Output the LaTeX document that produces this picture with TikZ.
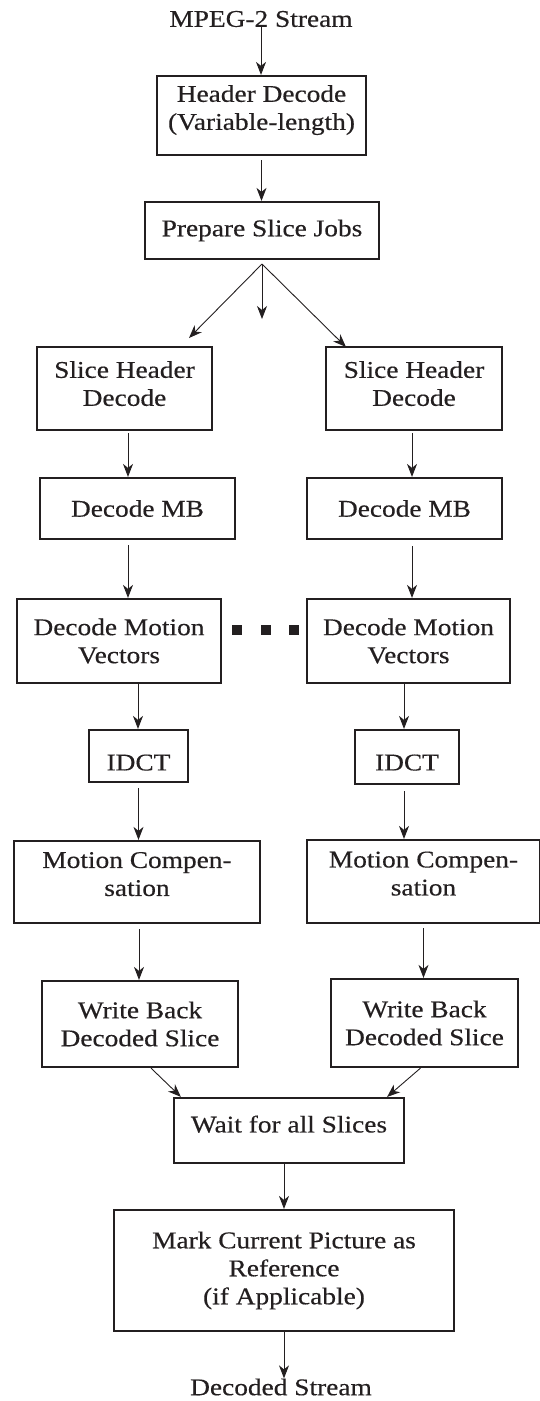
\documentclass[tikz,border=0pt]{standalone}
\usepackage{fontspec}
\setmainfont{Liberation Serif}[FakeStretch=1.14, FakeBold=0.4]
\usetikzlibrary{arrows.meta, positioning}
\definecolor{ink}{RGB}{35,31,32}

\begin{document}
\begin{tikzpicture}[
    x=1pt, y=-1pt,
    % Define styles
    block/.style={rectangle, draw=ink, line width=2.2pt, align=center, inner sep=0pt, text=ink, font=\fontsize{24}{28}\selectfont},
    stream/.style={inner sep=0pt, text=ink, font=\fontsize{24}{28}\selectfont},
    arrow/.style={-{Stealth[length=13pt,width=10pt,inset=4pt]}, draw=ink, line width=0.9pt},
    dotsq/.style={rectangle, fill=ink, minimum size=10pt, inner sep=0pt}
]
\useasboundingbox (0,0) rectangle (540,1401);

% Input and common stages
\node[stream] (src) at (261,19) {MPEG-2 Stream};
\node[block, minimum width=209pt, minimum height=79pt, text depth=16pt] (hdr) at (261.5,115.5) {Header Decode\\(Variable-length)};
\node[block, minimum width=234pt, minimum height=57pt] (prep) at (262,230.5) {Prepare Slice Jobs};

% Fork points
\coordinate (fork) at (262,264);
\coordinate (forkL) at (189,338);
\coordinate (forkM) at (262,319);
\coordinate (forkR) at (346,347);

% Left slice pipeline
\node[block, minimum width=175pt, minimum height=83pt, text depth=10pt] (slhL) at (124.5,388.5) {Slice Header\\Decode};
\node[block, minimum width=195pt, minimum height=61pt] (mbL) at (137.5,508.5) {Decode MB};
\node[block, minimum width=204pt, minimum height=84pt] (dmvL) at (119,641) {Decode Motion\\Vectors};
\node[block, minimum width=99pt, minimum height=52pt, text height=28.8pt, text depth=0pt] (idctL) at (138.5,756) {IDCT};
\node[block, minimum width=246pt, minimum height=82pt, text depth=16pt] (mcL) at (137,882) {Motion Compen-\\sation};
\node[block, minimum width=196pt, minimum height=86pt] (wbL) at (140,1024) {Write Back\\Decoded Slice};

% Right slice pipeline
\node[block, minimum width=176pt, minimum height=83pt, text depth=10pt] (slhR) at (414,388.5) {Slice Header\\Decode};
\node[block, minimum width=195pt, minimum height=61pt] (mbR) at (404.5,508.5) {Decode MB};
\node[block, minimum width=203pt, minimum height=84pt] (dmvR) at (408.5,641) {Decode Motion\\Vectors};
\node[block, minimum width=104pt, minimum height=54pt, text height=26.8pt, text depth=0pt] (idctR) at (407,757) {IDCT};
\node[block, minimum width=233pt, minimum height=83pt, text depth=16pt] (mcR) at (423.5,881.5) {Motion Compen-\\sation};
\node[block, minimum width=187pt, minimum height=88pt] (wbR) at (424.5,1023) {Write Back\\Decoded Slice};

% Dots between the pipelines
\foreach \i/\x in {1/237, 2/266, 3/294}
    \node[dotsq] (dot\i) at (\x,630) {};

% Join and output
\node[block, minimum width=230pt, minimum height=65pt, text depth=13pt] (wait) at (289,1130.5) {Wait for all Slices};
\node[block, minimum width=340pt, minimum height=121pt] (mark) at (284,1270.5) {Mark Current Picture as\\Reference\\(if Applicable)};
\node[stream] (dst) at (281,1387) {Decoded Stream};

% Connect common stages
\draw[arrow] (src) -- (src.south |- hdr.north);
\draw[arrow, shorten <=4pt] (hdr) -- (hdr.south |- prep.north);
\draw[arrow] (fork) -- (forkL);
\draw[arrow] (fork) -- (forkM);
\draw[arrow] (fork) -- (forkR);

% Connect left pipeline
\draw[arrow, shorten <=2pt] ([xshift=3.5pt]slhL.south) -- ([xshift=3.5pt]slhL.south |- mbL.north);
\draw[arrow, shorten <=5pt] ([xshift=-9.5pt]mbL.south) -- ([xshift=-9.5pt]mbL.south |- dmvL.north);
\draw[arrow] ([xshift=19pt]dmvL.south) -- ([xshift=19pt]dmvL.south |- idctL.north);
\draw[arrow, shorten <=5pt] (idctL.south) -- (idctL.south |- mcL.north);
\draw[arrow, shorten <=5pt] ([xshift=2pt]mcL.south) -- ([xshift=2pt]mcL.south |- wbL.north);

% Connect right pipeline
\draw[arrow, shorten <=2pt] ([xshift=-2pt]slhR.south) -- ([xshift=-2pt]slhR.south |- mbR.north);
\draw[arrow, shorten <=6pt] ([xshift=7.5pt]mbR.south) -- ([xshift=7.5pt]mbR.south |- dmvR.north);
\draw[arrow] ([xshift=-4.5pt]dmvR.south) -- ([xshift=-4.5pt]dmvR.south |- idctR.north);
\draw[arrow, shorten <=6pt] ([xshift=-3pt]idctR.south) -- ([xshift=-3pt]idctR.south |- mcR.north);
\draw[arrow, shorten <=4pt] (mcR.south) -- (mcR.south |- wbR.north);

% Join slices
\draw[arrow] ([xshift=11pt]wbL.south) -- ([xshift=8pt]wait.north west);
\draw[arrow] ([xshift=-4pt]wbR.south) -- ([xshift=-18pt]wait.north east);
\draw[arrow] (wait.south -| mark.north) -- (mark.north);
\draw[arrow] (mark.south) -- (mark.south |- dst.north);

\end{tikzpicture}
\end{document}
